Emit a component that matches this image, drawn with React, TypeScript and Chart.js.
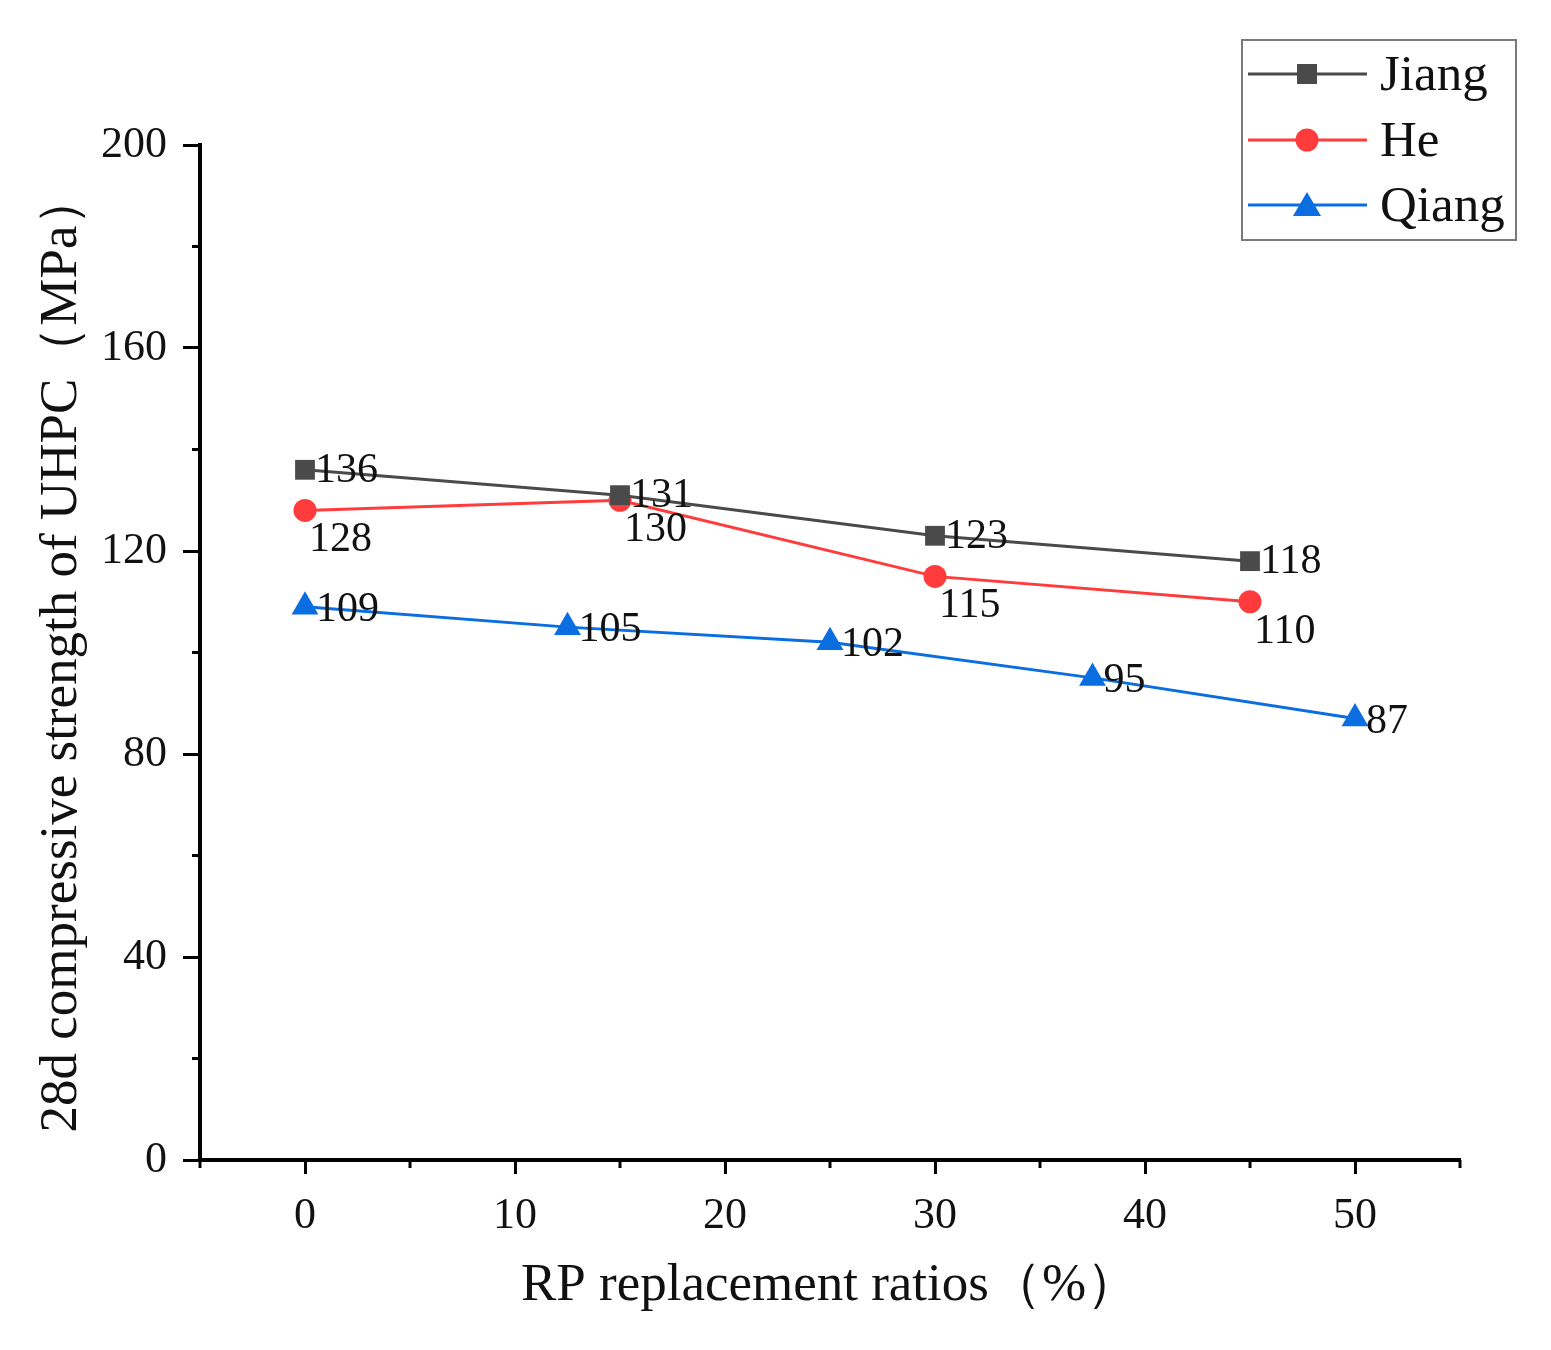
import { useEffect, useRef } from 'react'
import { Chart, registerables } from 'chart.js'
import type { Plugin } from 'chart.js'

Chart.register(...registerables)

const jiangX = [0, 15, 30, 45]
const jiangY = [136, 131, 123, 118]
const heX = [0, 15, 30, 45]
const heY = [128, 130, 115, 110]
const qiangX = [0, 12.5, 25, 37.5, 50]
const qiangY = [109, 105, 102, 95, 87]
const seriesNames = ['Jiang', 'He', 'Qiang']

const FONT = '"Liberation Serif", "Times New Roman", serif'
const colors = ['#4a4a4a', '#ff3b3b', '#0a6de0']
const markers = ['rect', 'circle', 'triangle'] as const
const radii = [14, 11.5, 15.5]

function pts(xs: number[], ys: number[]) {
  return xs.map((x, i) => ({ x, y: ys[i] }))
}

// minor ticks, value labels and the boxed legend
const extras: Plugin<'line'> = {
  id: 'extras',
  afterDraw(chart) {
    const ctx = chart.ctx
    const xs = chart.scales.x
    const ys = chart.scales.y
    ctx.save()
    ctx.strokeStyle = '#000'
    ctx.lineWidth = 3
    for (let v = -5; v <= 55; v += 10) {
      const px = xs.getPixelForValue(v)
      ctx.beginPath(); ctx.moveTo(px, xs.top); ctx.lineTo(px, xs.top + 8); ctx.stroke()
    }
    for (let v = 20; v <= 200; v += 40) {
      const py = ys.getPixelForValue(v)
      ctx.beginPath(); ctx.moveTo(ys.right, py); ctx.lineTo(ys.right - 8, py); ctx.stroke()
    }

    ctx.fillStyle = '#111'
    ctx.font = `42px ${FONT}`
    ctx.textBaseline = 'middle'
    ctx.textAlign = 'left'
    chart.data.datasets.forEach((ds, di) => {
      const meta = chart.getDatasetMeta(di)
      meta.data.forEach((el, i) => {
        const val = (ds.data[i] as { y: number }).y
        if (di === 0) ctx.fillText(String(val), el.x + 10, el.y + 1)
        else if (di === 1) ctx.fillText(String(val), el.x + 4, el.y + 30)
        else ctx.fillText(String(val), el.x + 11, el.y + 3)
      })
    })

    // legend
    const bx = 1242, by = 40, bw = 274, bh = 200
    ctx.strokeStyle = '#7a7a7a'
    ctx.lineWidth = 2
    ctx.strokeRect(bx, by, bw, bh)
    const rows = [74, 140, 205]
    ctx.font = `51px ${FONT}`
    seriesNames.forEach((name, i) => {
      const y = rows[i]
      ctx.strokeStyle = colors[i]
      ctx.lineWidth = 3
      ctx.beginPath(); ctx.moveTo(1248, y); ctx.lineTo(1367, y); ctx.stroke()
      ctx.fillStyle = colors[i]
      ctx.beginPath()
      if (i === 0) ctx.rect(1297, y - 10, 20, 20)
      else if (i === 1) ctx.arc(1307, y, 11.5, 0, Math.PI * 2)
      else { ctx.moveTo(1307, y - 13); ctx.lineTo(1321, y + 11); ctx.lineTo(1293, y + 11); ctx.closePath() }
      ctx.fill()
      ctx.fillStyle = '#111'
      ctx.fillText(name, 1380, y + 3)
    })
    ctx.restore()
  },
}

export default function App() {
  const ref = useRef<HTMLCanvasElement>(null)

  useEffect(() => {
    document.body.style.margin = '0'
    if (!ref.current) return
    const data = [pts(jiangX, jiangY), pts(heX, heY), pts(qiangX, qiangY)]
    const chart = new Chart(ref.current, {
      type: 'line',
      data: {
        datasets: data.map((d, i) => ({
          label: seriesNames[i],
          data: d,
          borderColor: colors[i],
          backgroundColor: colors[i],
          borderWidth: 3,
          pointStyle: markers[i],
          pointRadius: radii[i],
          pointBorderWidth: 0,
          tension: 0,
        })),
      },
      options: {
        animation: false,
        responsive: false,
        layout: { padding: { top: 145, right: 91, left: 0, bottom: 32 } },
        plugins: { legend: { display: false }, tooltip: { enabled: false } },
        scales: {
          x: {
            type: 'linear',
            min: -5,
            max: 55,
            afterBuildTicks: (s) => { s.ticks = [0, 10, 20, 30, 40, 50].map((v) => ({ value: v })) },
            afterFit: (s) => { s.height = 158 },
            grid: { drawOnChartArea: false, tickLength: 14, tickWidth: 3, tickColor: '#000' },
            border: { color: '#000', width: 4 },
            ticks: { color: '#111', font: { family: FONT, size: 44 }, padding: 16, maxRotation: 0 },
            title: {
              display: true,
              text: 'RP replacement ratios（%）',
              color: '#111',
              font: { family: FONT, size: 53 },
              padding: { top: 8, bottom: 0 },
            },
          },
          y: {
            type: 'linear',
            min: 0,
            max: 200,
            afterBuildTicks: (s) => { s.ticks = [0, 40, 80, 120, 160, 200].map((v) => ({ value: v })) },
            afterFit: (s) => { s.width = 200 },
            grid: { drawOnChartArea: false, tickLength: 17, tickWidth: 3, tickColor: '#000' },
            border: { color: '#000', width: 4 },
            ticks: { color: '#111', font: { family: FONT, size: 44 }, padding: 16 },
            title: {
              display: true,
              text: '28d compressive strength of UHPC（MPa）',
              color: '#111',
              font: { family: FONT, size: 53 },
              padding: { top: 30, bottom: 0 },
            },
          },
        },
      },
      plugins: [extras],
    })
    return () => chart.destroy()
  }, [])

  return (
    <div style={{ width: 1551, height: 1350, background: '#fff' }}>
      <canvas ref={ref} width={1551} height={1350} style={{ width: 1551, height: 1350 }} />
    </div>
  )
}
